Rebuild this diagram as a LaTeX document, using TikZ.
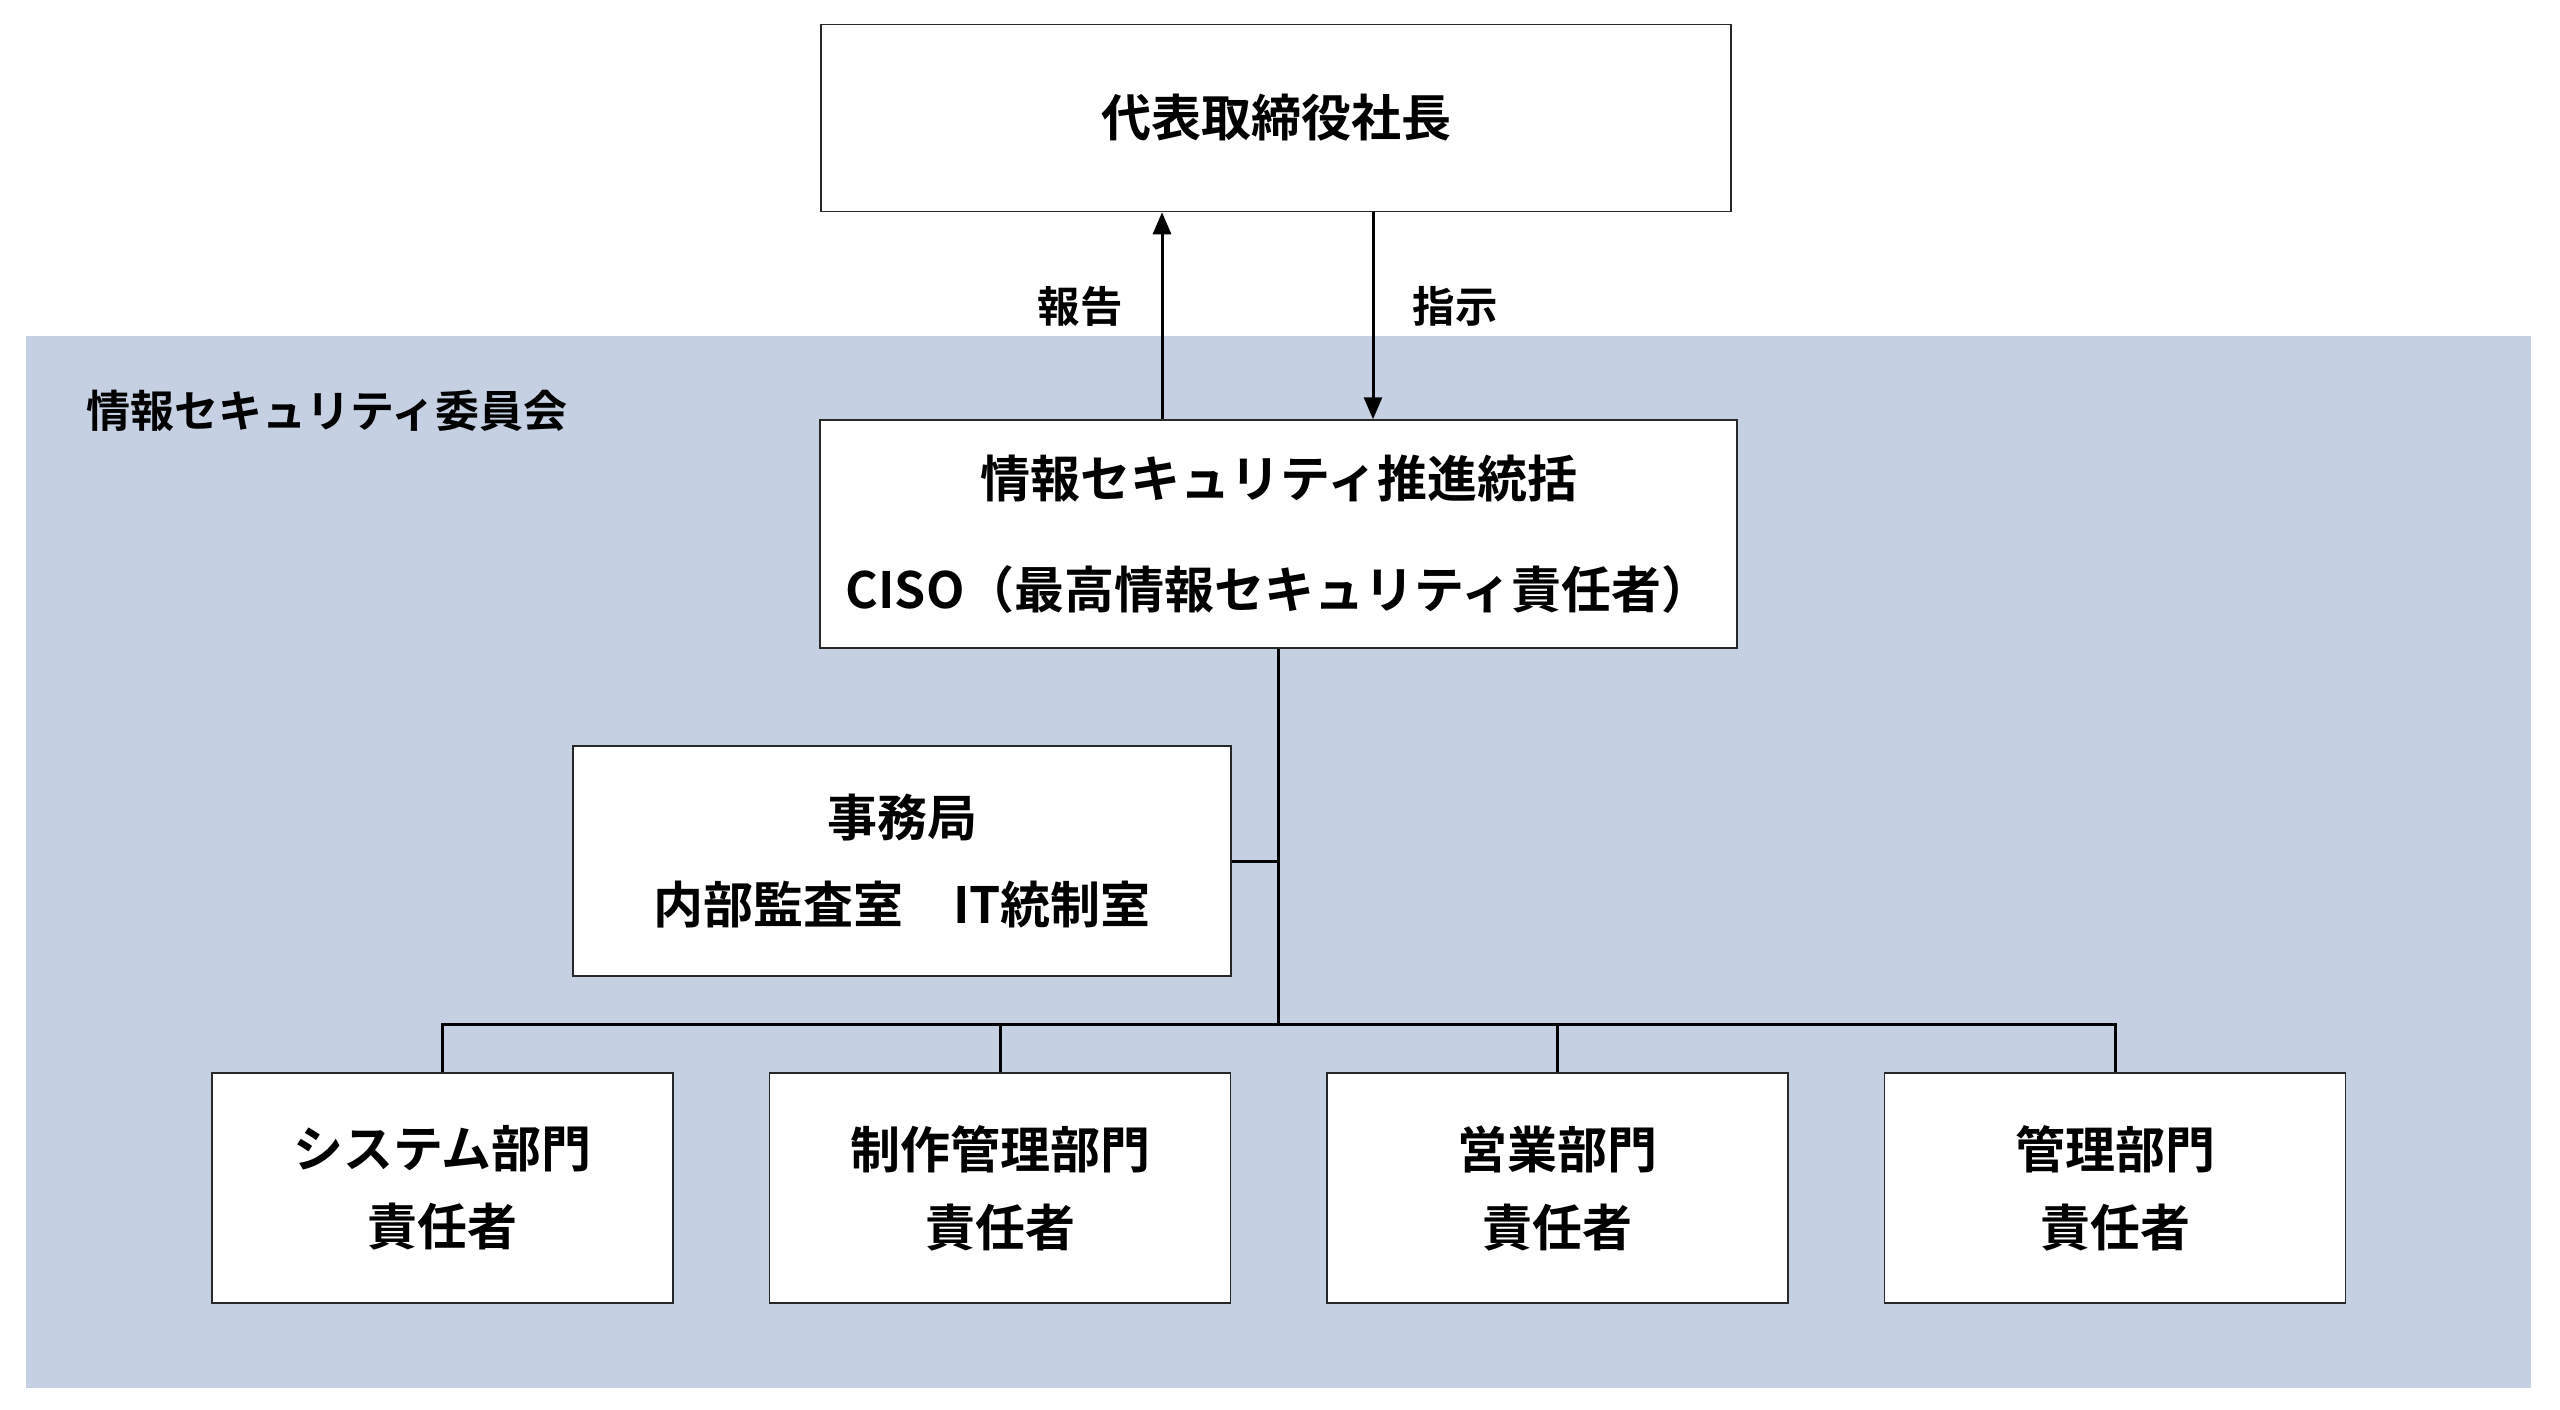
\documentclass[tikz,border=0pt]{standalone}
\usepackage{fontspec}
\setmainfont{Noto Sans CJK JP}[BoldFont={Noto Sans CJK JP Bold}]
\usetikzlibrary{arrows.meta}
\definecolor{committee}{RGB}{197,208,227}
\definecolor{edge}{RGB}{40,40,40}
\tikzset{
  orgbox/.style={draw=edge, line width=1.5pt, fill=white, rectangle, inner sep=0pt, align=center, font=\bfseries\fontsize{50}{60}\selectfont},
  conn/.style={draw=black, line width=3pt},
  arr/.style={conn, -{Triangle[length=22pt,width=18pt]}},
  lbl/.style={inner sep=0pt, font=\bfseries\fontsize{42.5}{50}\selectfont}
}
\begin{document}
\begin{tikzpicture}[x=1pt,y=-1pt]
\useasboundingbox (0,0) rectangle (2560,1410);
\fill[white] (0,0) rectangle (2560,1410);
\fill[committee] (26,336) rectangle (2531,1388);
\node[lbl, anchor=west, font=\bfseries\fontsize{44}{50}\selectfont] (title) at (86,411) {情報セキュリティ委員会};

\node[orgbox, minimum width=910pt, minimum height=187pt] (top) at (1276,118) {代表取締役社長};
\node[orgbox, minimum width=917pt, minimum height=228pt, font=\bfseries\fontsize{50}{108}\selectfont] (ciso) at (1278.5,534) {\raisebox{3pt}{情報セキュリティ推進統括}\\CISO（最高情報セキュリティ責任者）};
\node[orgbox, minimum width=658pt, minimum height=230pt, font=\bfseries\fontsize{50}{87}\selectfont] (sec) at (902,861) {事務局\\内部監査室　IT統制室};

\tikzset{dept/.style={orgbox, minimum width=461pt, minimum height=230pt, font=\bfseries\fontsize{50}{75}\selectfont}}
\node[dept] (b1) at (442.5,1188) {\raisebox{3pt}{システム部門}\\責任者};
\node[dept] (b2) at (1000,1188) {\raisebox{3pt}{制作管理部門}\\責任者};
\node[dept] (b3) at (1557.5,1188) {\raisebox{3pt}{営業部門}\\責任者};
\node[dept] (b4) at (2115,1188) {\raisebox{3pt}{管理部門}\\責任者};

\coordinate (rx) at (1162,0);
\coordinate (ix) at (1373,0);
\draw[arr] (ciso.north -| rx) -- (top.south -| rx);
\draw[arr] (top.south -| ix) -- (ciso.north -| ix);
\node[lbl] (report) at (1080,306) {報告};
\node[lbl] (instr) at (1455,306) {指示};

\coordinate (bus) at (1278.5,1024);
\draw[conn] (ciso.south) -- (bus);
\draw[conn] (sec.east) -- (sec.east -| bus);
\draw[conn] (b1.north) |- (bus);
\draw[conn] (b2.north) |- (bus);
\draw[conn] (b3.north) |- (bus);
\draw[conn] (b4.north) |- (bus);
\end{tikzpicture}
\end{document}
